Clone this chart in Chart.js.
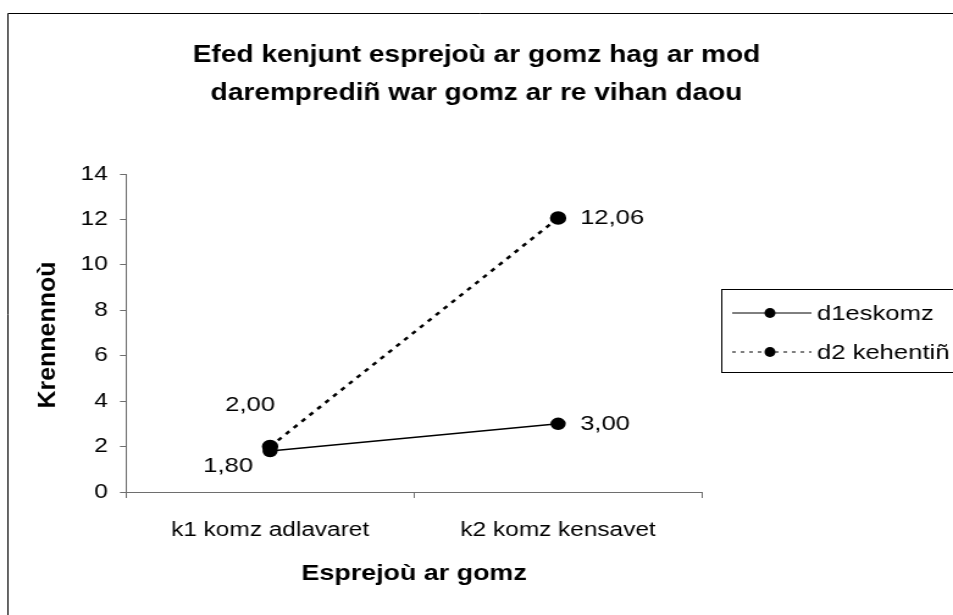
<!DOCTYPE html>
<html>
<head>
<meta charset="utf-8">
<script src="https://cdn.jsdelivr.net/npm/chart.js@4/dist/chart.umd.min.js"></script>
<style>
  html, body { margin: 0; padding: 0; background: #fff; }
  #c { display: block; }
</style>
</head>
<body>
<canvas id="c" width="781" height="615" style="width:953px;height:615px"></canvas>
<script>
const categories = ['k1 komz adlavaret', 'k2 komz kensavet'];
const seriesNames = ['d1eskomz', 'd2 kehentiñ'];
const d1Values = [1.80, 3.00];
const d2Values = [2.00, 12.06];
const yTicks = [0, 2, 4, 6, 8, 10, 12, 14];
const titleLines = ['Efed kenjunt esprejoù ar gomz hag ar mod', 'daremprediñ war gomz ar re vihan daou'];
const yTitle = 'Krennennoù';
const xTitle = 'Esprejoù ar gomz';

const FONT = "'Liberation Sans', Arial, sans-serif";
const AXIS = '#6e6e6e';
const STRETCH = 953 / 781; // canvas is drawn narrow and widened by css

const fmt = v => v.toFixed(2).replace('.', ',');

// frame (top + left only, the rest is cut off), y title, value labels, legend
const decor = {
  id: 'decor',
  beforeDraw(chart) {
    const ctx = chart.ctx;
    ctx.save();
    ctx.strokeStyle = '#000';
    ctx.lineWidth = 1;
    ctx.beginPath();
    ctx.moveTo(6.5, chart.height);
    ctx.lineTo(6.5, 13.5);
    ctx.lineTo(chart.width, 13.5);
    ctx.stroke();
    ctx.restore();
  },
  afterDraw(chart) {
    const ctx = chart.ctx;
    const area = chart.chartArea;
    ctx.save();
    ctx.fillStyle = '#000';

    // y title, un-stretched so it keeps normal proportions once rotated
    ctx.save();
    ctx.translate(39.3, (area.top + area.bottom) / 2 + 2);
    ctx.scale(1 / STRETCH, 1);
    ctx.rotate(-Math.PI / 2);
    ctx.font = 'bold 25px ' + FONT;
    ctx.textAlign = 'center';
    ctx.textBaseline = 'middle';
    ctx.fillText(yTitle, 0, 0);
    ctx.restore();

    // value labels
    ctx.font = '21px ' + FONT;
    ctx.textBaseline = 'middle';
    const m1 = chart.getDatasetMeta(0).data;
    const m2 = chart.getDatasetMeta(1).data;
    ctx.textAlign = 'right';
    ctx.fillText(fmt(d1Values[0]), m1[0].x - 14, m1[0].y + 15);
    ctx.fillText(fmt(d2Values[0]), m2[0].x + 4, m2[0].y - 41);
    ctx.textAlign = 'left';
    ctx.fillText(fmt(d1Values[1]), m1[1].x + 18, m1[1].y);
    ctx.fillText(fmt(d2Values[1]), m2[1].x + 18, m2[1].y);

    // legend
    const bx = 591.5, by = 289.5, bh = 83;
    ctx.strokeStyle = '#000';
    ctx.lineWidth = 1;
    ctx.strokeRect(bx, by, chart.width - bx + 5, bh);
    const rows = [313, 352];
    chart.data.datasets.forEach((ds, i) => {
      const y = rows[i];
      ctx.beginPath();
      ctx.setLineDash(i === 1 ? [3, 4] : []);
      ctx.moveTo(600, y);
      ctx.lineTo(665, y);
      ctx.stroke();
      ctx.setLineDash([]);
      ctx.beginPath();
      ctx.ellipse(631, y, 4.5, 5, 0, 0, Math.PI * 2);
      ctx.fill();
      ctx.textAlign = 'left';
      ctx.fillText(ds.label, 669.5, y + 1);
    });
    ctx.restore();
  }
};

new Chart(document.getElementById('c'), {
  type: 'line',
  data: {
    labels: categories,
    datasets: [
      {
        label: seriesNames[0],
        data: d1Values,
        borderColor: '#000',
        backgroundColor: '#000',
        borderWidth: 1.5,
        pointRadius: 5.5,
        pointBackgroundColor: '#000',
        pointBorderColor: '#000',
        tension: 0
      },
      {
        label: seriesNames[1],
        data: d2Values,
        borderColor: '#000',
        backgroundColor: '#000',
        borderWidth: 2.5,
        borderDash: [4, 5],
        pointRadius: 5.5,
        pointBackgroundColor: '#000',
        pointBorderColor: '#000',
        tension: 0
      }
    ]
  },
  options: {
    responsive: false,
    animation: false,
    layout: { padding: 0 },
    plugins: {
      legend: { display: false },
      tooltip: { enabled: false },
      title: {
        display: true,
        text: titleLines,
        color: '#000',
        font: { family: FONT, size: 23, weight: 'bold', lineHeight: '38px' },
        padding: { top: 37, bottom: 61 }
      }
    },
    scales: {
      x: {
        offset: true,
        afterFit: s => { s.height = 123; },
        grid: { offset: true, drawOnChartArea: false, drawTicks: true, tickLength: 6, color: AXIS },
        border: { color: AXIS, width: 1 },
        ticks: { color: '#000', font: { family: FONT, size: 20 }, padding: 20, maxRotation: 0 },
        title: {
          display: true,
          text: xTitle,
          color: '#000',
          font: { family: FONT, size: 22, weight: 'bold' },
          padding: { top: 0, bottom: 28 }
        }
      },
      y: {
        min: 0,
        max: 14,
        afterFit: s => { s.width = 103.3; },
        afterBuildTicks: s => { s.ticks = yTicks.map(v => ({ value: v })); },
        grid: { drawOnChartArea: false, drawTicks: true, tickLength: 5, color: AXIS },
        border: { color: AXIS, width: 1 },
        ticks: { color: '#000', font: { family: FONT, size: 20 }, padding: 10 },
        title: { display: false }
      },
      // empty right-hand scale that keeps room for the legend
      side: {
        position: 'right',
        afterFit: s => { s.width = 205.6; },
        grid: { display: false },
        border: { display: false },
        ticks: { display: false }
      }
    }
  },
  plugins: [decor]
});
</script>
</body>
</html>
